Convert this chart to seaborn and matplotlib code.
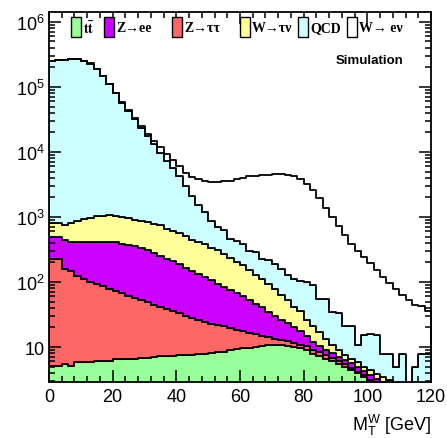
import numpy as np
import pandas as pd
import matplotlib
matplotlib.use("Agg")
import matplotlib.pyplot as plt
import seaborn as sns
from matplotlib.patches import Rectangle
from matplotlib.ticker import MultipleLocator, LogLocator, FuncFormatter, NullFormatter, FixedLocator

# ---------------- data (per 2 GeV bin, 0-120 GeV) ----------------
n_bins = 60
mt_range = (0, 120)

ttbar = [5.1, 5.1, 5.5, 5.2, 5.8, 5.8, 5.8, 6.0, 6.2, 6.2,
         6.5, 6.6, 6.6, 6.6, 6.8, 6.9, 7.1, 7.2, 7.2, 7.4,
         7.6, 7.6, 7.6, 7.8, 7.9, 8.1, 8.3, 8.5, 8.9, 9.3,
         9.5, 9.8, 10.0, 10.5, 10.7, 10.7, 10.7, 10.5, 10.0, 9.5,
         8.9, 7.9, 7.2, 6.6, 6.0, 5.5, 5.0, 4.5, 4.0, 3.5,
         3.0, 2.6, 2.3, 2.0, 1.7, 1.5, 1.3, 1.1, 1.0, 0.9]

ztautau = [219, 219, 153, 143, 120, 106, 94, 87, 81, 71,
           66, 61, 55, 51, 47, 42, 37.6, 33.5, 30.8, 28.1,
           25.5, 21.9, 20.6, 18.5, 16.6, 14.8, 13.6, 12.4, 10.6, 9.3,
           8.3, 6.8, 5.8, 4.3, 3.4, 2.5, 2.0, 1.7, 1.5, 1.4,
           1.3, 1.2, 1.3, 1.0, 0.8, 0.5, 0.4, 0.3, 0.2, 0.2,
           0.1, 0.1, 0.1, 0.05, 0.05, 0, 0, 0, 0, 0]

zee = [266, 266, 278, 269, 291, 305, 317, 324, 330, 339,
       335, 321, 310, 306, 285, 260, 231, 210, 191, 173,
       153, 133, 120, 105, 96, 84, 71, 62, 56, 49,
       42.5, 35.9, 29.9, 25.9, 20.6, 16.3, 13.1, 10.9, 8.8, 6.5,
       4.5, 3.0, 2.0, 1.5, 1.2, 1.0, 0.9, 0.8, 0.7, 0.65,
       0.6, 0.55, 0.5, 0.45, 0.4, 0.35, 0.3, 0.25, 0.2, 0.2]

wtaunu = [323, 323, 322, 396, 454, 516, 560, 606, 630, 655,
          640, 611, 584, 549, 532, 523, 501, 490, 432, 394,
          376, 339, 299, 285, 260, 232, 216, 186, 158, 136,
          122, 99, 83, 69, 58.6, 48.1, 37.4, 29.6, 21.7, 18.1,
          11.3, 9.2, 6.6, 4.3, 2.8, 1.9, 1.3, 1.0, 1.0, 0.65,
          0.8, 0.65, 0.6, 0.66, 0.65, 0.5, 0.45, 0.4, 0.35, 0.3]

qcd = [250400, 256200, 262300, 268300, 268300, 250300, 228100, 189500, 146900, 108600,
       78400, 56500, 41700, 31400, 22600, 16500, 12400, 9030, 6580, 5020,
       3700, 2520, 1640, 1100, 795, 532, 383, 362, 223, 223,
       198, 151, 159, 114, 121, 113, 95, 73.5, 70, 70,
       75, 68, 38.4, 41.8, 24, 24.2, 13.3, 14.3, 4.8, 10.1,
       11.3, 11.2, 4.3, 4.6, 2.2, 5.4, 0, 3.25, 6.2, 6.4]

wenu = [500, 550, 600, 650, 700, 750, 800, 850, 900, 950,
        1000, 1100, 1200, 1300, 1400, 1600, 1800, 2000, 1900, 1900,
        1900, 1800, 2100, 2300, 2450, 2600, 2750, 2950, 3150, 3350,
        3650, 3900, 4050, 4150, 4250, 4450, 4480, 4350, 4200, 3700,
        3100, 2500, 1900, 1300, 980, 700, 500, 370, 290, 230,
        180, 138, 112, 88, 73, 56, 50, 40, 35, 28]

process_keys = ["ttbar", "Zee", "Ztautau", "Wtaunu", "QCD", "Wenu"]
legend_labels = [r"$\mathbf{t\bar{t}}$", "Z\u2192ee", "Z\u2192\u03c4\u03c4",
                 "W\u2192\u03c4\u03bd", "QCD", "W\u2192 e\u03bd"]
colors = {"ttbar": "#99FF99", "Zee": "#CC00FF", "Ztautau": "#FF6666",
          "Wtaunu": "#FFFF99", "QCD": "#CCFFFF", "Wenu": "#FFFFFF"}
# stacking: first hue level ends on top
stack_order = ["Wenu", "QCD", "Wtaunu", "Zee", "Ztautau", "ttbar"]

width = (mt_range[1] - mt_range[0]) / n_bins
centers = mt_range[0] + width * (np.arange(n_bins) + 0.5)
series = {"ttbar": ttbar, "Zee": zee, "Ztautau": ztautau,
          "Wtaunu": wtaunu, "QCD": qcd, "Wenu": wenu}
frames = [pd.DataFrame({"mt": centers, "w": np.asarray(v, float), "process": k})
          for k, v in series.items()]
df = pd.concat(frames, ignore_index=True)

# ---------------- figure ----------------
plt.rcParams["font.family"] = ["Liberation Sans", "DejaVu Sans"]
plt.rcParams["mathtext.fontset"] = "custom"
plt.rcParams["mathtext.rm"] = "Liberation Sans"
plt.rcParams["mathtext.it"] = "Liberation Sans:italic"
plt.rcParams["mathtext.bf"] = "Liberation Sans:bold"

W, H = 447, 439
fig = plt.figure(figsize=(W / 100, H / 100), dpi=100)
ax = fig.add_axes([49 / W, 1 - 383 / H, 382 / W, 370 / H])

sns.histplot(data=df, x="mt", weights="w", hue="process", hue_order=stack_order,
             palette=colors, bins=n_bins, binrange=mt_range, multiple="stack",
             element="step", fill=True, alpha=1, edgecolor="black", linewidth=1.3,
             legend=False, ax=ax)

ax.set_yscale("log")
ax.set_xlim(0, 120)
ax.set_ylim(2.9, 1.42e6)

ax.xaxis.set_major_locator(MultipleLocator(20))
ax.xaxis.set_minor_locator(MultipleLocator(4))
ax.yaxis.set_major_locator(FixedLocator([10, 1e2, 1e3, 1e4, 1e5, 1e6]))
ax.yaxis.set_minor_locator(LogLocator(base=10, subs=np.arange(2, 10)))
ax.yaxis.set_minor_formatter(NullFormatter())


def yfmt(v, pos):
    e = int(round(np.log10(v)))
    return "10" if e == 1 else r"$10^{%d}$" % e


ax.yaxis.set_major_formatter(FuncFormatter(yfmt))
ax.tick_params(which="both", direction="in", top=True, right=True, width=1.1,
               labelsize=13)
ax.tick_params(which="major", length=8.5)
ax.tick_params(which="minor", length=4)
ax.tick_params(axis="x", which="major", pad=4)
ax.tick_params(axis="y", which="major", pad=3)
for s in ax.spines.values():
    s.set_linewidth(1.3)

ax.set_ylabel("")
ax.set_xlabel(r"$\mathrm{M_T^W}$ [GeV]", fontsize=13, loc="right", labelpad=5)

# legend row
box_x = [70.7, 104, 172, 240, 298, 347]
for px, key, lab in zip(box_x, process_keys, legend_labels):
    x0 = (px - 49) / 382
    ax.add_patch(Rectangle((x0, 0.932), 10 / 382, 0.054, transform=ax.transAxes,
                           facecolor=colors[key], edgecolor="black", lw=1.0,
                           clip_on=False, zorder=10))
    kw = dict(transform=ax.transAxes, ha="left", va="center", fontsize=10,
              fontweight="bold", family="Liberation Serif", zorder=10)
    if key == "ttbar":
        ax.text(x0 + 12 / 382, 0.958, lab, math_fontfamily="stix", **kw)
    else:
        ax.text(x0 + 12 / 382, 0.958, lab, **kw)

ax.text((370 - 49) / 382, (383 - 61) / 370, "Simulation", transform=ax.transAxes,
        ha="center", va="center", fontsize=9.5, fontweight="bold")

fig.savefig("out.png", dpi=100)
